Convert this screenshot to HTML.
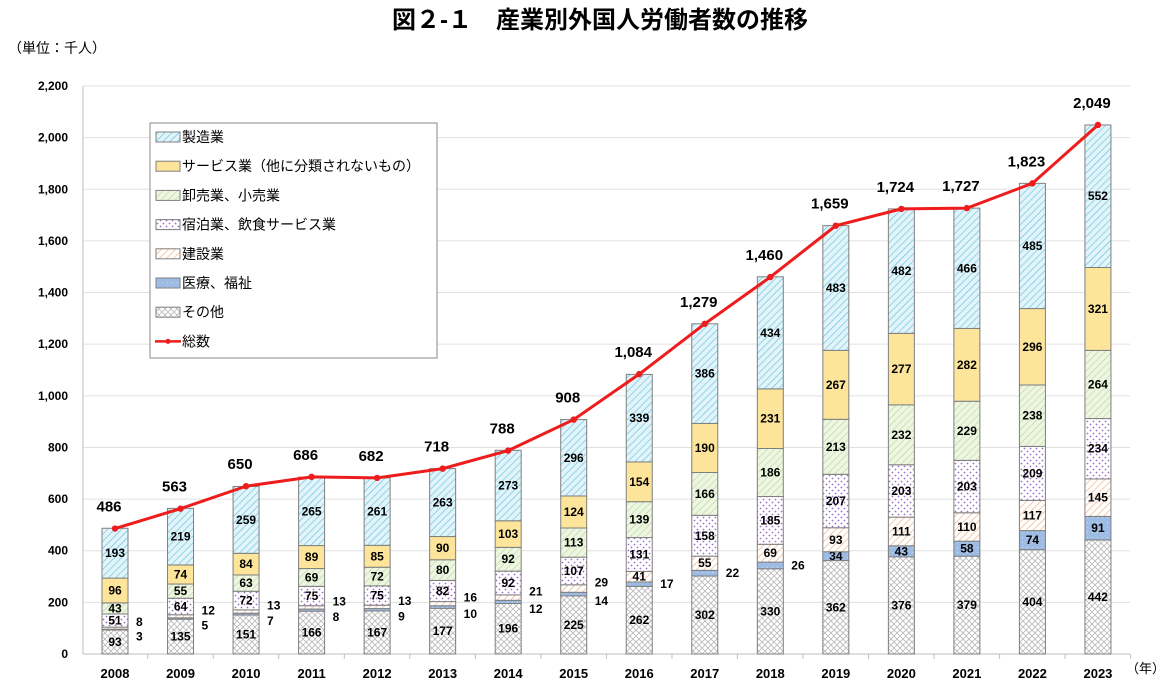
<!DOCTYPE html>
<html><head><meta charset="utf-8"><style>
body{margin:0;background:#fff;}
svg text{font-family:"Liberation Sans","Noto Sans CJK JP",sans-serif;}
</style></head><body>
<svg id="chart" width="1173" height="693" viewBox="0 0 1173 693" xmlns="http://www.w3.org/2000/svg">
<defs>
<pattern id="pMan" patternUnits="userSpaceOnUse" width="5" height="5" patternTransform="rotate(45)"><rect width="5" height="5" fill="#e2f4f9"/><line x1="0" y1="0" x2="0" y2="5" stroke="#5cc0dd" stroke-width="1.2"/></pattern>
<pattern id="pSvc" patternUnits="userSpaceOnUse" width="4" height="4"><rect width="4" height="4" fill="#fde59b"/><circle cx="2" cy="2" r="0.4" fill="#f5cf60"/></pattern>
<pattern id="pWho" patternUnits="userSpaceOnUse" width="5" height="5" patternTransform="rotate(45)"><rect width="5" height="5" fill="#eef6e2"/><line x1="0" y1="0" x2="0" y2="5" stroke="#a9d18e" stroke-width="1"/></pattern>
<pattern id="pHot" patternUnits="userSpaceOnUse" width="6" height="6"><rect width="6" height="6" fill="#fff"/><circle cx="1.5" cy="1.5" r="0.9" fill="#9a70c8"/><circle cx="4.5" cy="4.5" r="0.9" fill="#9a70c8"/></pattern>
<pattern id="pCon" patternUnits="userSpaceOnUse" width="5" height="5" patternTransform="rotate(45)"><rect width="5" height="5" fill="#fff"/><line x1="0" y1="0" x2="0" y2="5" stroke="#f4b183" stroke-width="1.4"/></pattern>
<pattern id="pMed" patternUnits="userSpaceOnUse" width="5" height="5"><rect width="5" height="5" fill="#9dbbe3"/><circle cx="2.5" cy="2.5" r="0.5" fill="#dfe8f6"/></pattern>
<pattern id="pOth" patternUnits="userSpaceOnUse" width="6" height="6"><rect width="6" height="6" fill="#fff"/><path d="M0 0L6 6M6 0L0 6" stroke="#b8b8b8" stroke-width="0.8"/></pattern>
</defs>
<text x="600" y="28" text-anchor="middle" font-size="24" font-weight="bold" fill="#000">図２-１　産業別外国人労働者数の推移</text>
<text x="8" y="53" font-size="14" fill="#000">（単位：千人）</text>
<text x="1126" y="673" font-size="13" fill="#000">（年）</text>
<g id="grid"></g><g id="bars"></g><g id="line"></g>
<g id="legend">
<rect x="150" y="123" width="287" height="235" fill="#fff" stroke="#888" stroke-width="1"/>
</g>
</svg>
<script>
const years=["2008","2009","2010","2011","2012","2013","2014","2015","2016","2017","2018","2019","2020","2021","2022","2023"];
const other=[93,135,151,166,167,177,196,225,262,302,330,362,376,379,404,442];
const medical=[3,5,7,8,9,10,12,14,17,22,26,34,43,58,74,91];
const construction=[8,12,13,13,13,16,21,29,41,55,69,93,111,110,117,145];
const hotel=[51,64,72,75,75,82,92,107,131,158,185,207,203,203,209,234];
const wholesale=[43,55,63,69,72,80,92,113,139,166,186,213,232,229,238,264];
const service=[96,74,84,89,85,90,103,124,154,190,231,267,277,282,296,321];
const manufacturing=[193,219,259,265,261,263,273,296,339,386,434,483,482,466,485,552];
const totals=[486,563,650,686,682,718,788,908,1084,1279,1460,1659,1724,1727,1823,2049];
const yTicks=[0,200,400,600,800,1000,1200,1400,1600,1800,2000,2200];
const seriesNames=["その他","医療、福祉","建設業","宿泊業、飲食サービス業","卸売業、小売業","サービス業（他に分類されないもの）","製造業"];

const NS="http://www.w3.org/2000/svg";
const y0=654,yTop=86,yMax=2200,xL=83,xR=1130;
const yS=v=>y0-(v/yMax)*(y0-yTop);
const xS=i=>115+i*65.53;
const bw=26;
function mk(tag,attrs,parent,txt){const e=document.createElementNS(NS,tag);for(const k in attrs)e.setAttribute(k,attrs[k]);if(txt!==undefined)e.textContent=txt;parent.appendChild(e);return e;}
const grid=document.getElementById('grid'),bars=document.getElementById('bars'),lineG=document.getElementById('line'),leg=document.getElementById('legend');
yTicks.forEach(t=>{
 const l=mk('line',{x1:xL,x2:xR,y1:yS(t),y2:yS(t),stroke:t===0?'#bfbfbf':'#e0e0e0','stroke-width':1},grid);
 
 
 const tx=mk('text',{x:68,y:yS(t)+4,'text-anchor':'end','font-size':12,'font-weight':'bold'},grid,t.toLocaleString('en-US'));
 
 
});
const axl=mk('line',{x1:xL,x2:xL,y1:yTop,y2:y0,stroke:'#bfbfbf'},grid);


const series=[other,medical,construction,hotel,wholesale,service,manufacturing];
const fills=['url(#pOth)','url(#pMed)','url(#pCon)','url(#pHot)','url(#pWho)','url(#pSvc)','url(#pMan)'];
const keys=['other','medical','construction','hotel','wholesale','service','manufacturing'];
years.forEach((yr,i)=>{
 const cx=xS(i);let acc=0;
 const tk=mk('line',{x1:cx+32.7,x2:cx+32.7,y1:y0,y2:y0+5,stroke:'#bfbfbf'},grid);
 
 
 const xl=mk('text',{x:cx,y:678,'text-anchor':'middle','font-size':13,'font-weight':'bold'},grid,yr);
 
 
 const bothOut=medical[i]<30&&construction[i]<30;
 series.forEach((s,k)=>{
  const v=s[i],yb=yS(acc),yt=yS(acc+v);acc+=v;
  const r=mk('rect',{x:cx-bw/2,y:yt,width:bw,height:yb-yt,fill:fills[k],stroke:'#7f7f7f','stroke-width':1},bars);
  
  
  const mid=(yt+yb)/2;let lx=cx,ly=mid+4,anc='middle';
  if(v<30){lx=cx+bw/2+8;anc='start';if(bothOut){ly=(k===2?mid-2:mid+11);}else ly=mid+4;}
  const lb=mk('text',{x:lx,y:ly,'text-anchor':anc,'font-size':12,'font-weight':'bold'},bars,v);
  
  
 });
});
const pts=totals.map((t,i)=>xS(i)+','+yS(t)).join(' ');
const pl=mk('polyline',{points:pts,fill:'none',stroke:'#ee1c1c','stroke-width':3},lineG);


totals.forEach((t,i)=>{
 const c=mk('circle',{cx:xS(i),cy:yS(t),r:3.2,fill:'#ee1c1c'},lineG);
 
 
 const tl=mk('text',{x:xS(i)-6,y:yS(t)-17,'text-anchor':'middle','font-size':15,'font-weight':'bold'},lineG,t.toLocaleString('en-US'));
 
 
});
const legOrder=[6,5,4,3,2,1,0];
legOrder.forEach((k,j)=>{
 const yy=137+j*29.2;
 const r=mk('rect',{x:156,y:yy-5,width:24,height:10,fill:fills[k],stroke:'#7f7f7f'},leg);
 
 
 const t=mk('text',{x:182,y:yy+5,'font-size':14},leg,seriesNames[k]);
 
 
});
const ly=137+7*29.2;
const ll=mk('line',{x1:155,x2:181,y1:ly,y2:ly,stroke:'#ee1c1c','stroke-width':2.5},leg);


const lc=mk('circle',{cx:168,cy:ly,r:2.5,fill:'#ee1c1c'},leg);


const lt=mk('text',{x:182,y:ly+5,'font-size':14},leg,'総数');


</script>
</body></html>
